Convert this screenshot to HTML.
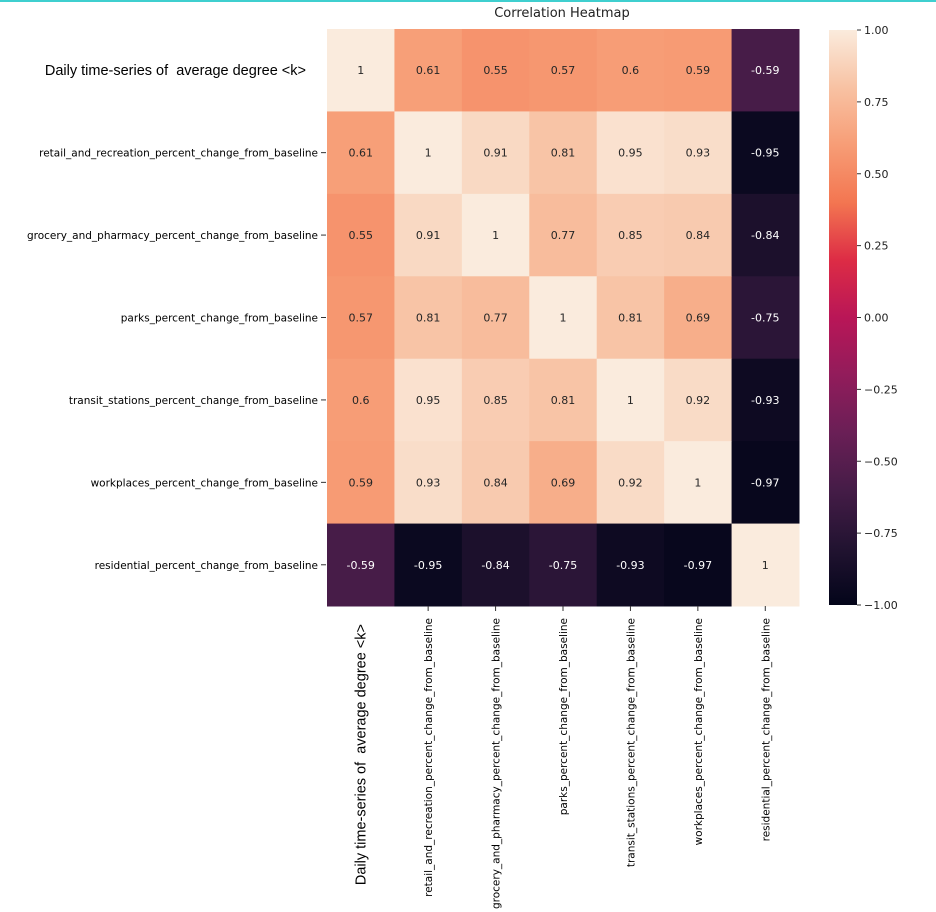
<!DOCTYPE html>
<html><head><meta charset="utf-8"><style>
body{margin:0;background:#fff;}
svg{display:block;font-family:"DejaVu Sans","Liberation Sans",sans-serif;}
</style></head><body>
<svg id="c" width="936" height="912" xmlns="http://www.w3.org/2000/svg">
<rect x="0" y="0" width="936" height="2" fill="#3fcfcf"/>
<text x="562" y="17" font-size="13" text-anchor="middle" fill="#222">Correlation Heatmap</text>
</svg>
<script>
const labels=["Daily time-series of\u00a0 average degree <k>","retail_and_recreation_percent_change_from_baseline","grocery_and_pharmacy_percent_change_from_baseline","parks_percent_change_from_baseline","transit_stations_percent_change_from_baseline","workplaces_percent_change_from_baseline","residential_percent_change_from_baseline"];
const row0=[1,0.61,0.55,0.57,0.6,0.59,-0.59];
const row1=[0.61,1,0.91,0.81,0.95,0.93,-0.95];
const row2=[0.55,0.91,1,0.77,0.85,0.84,-0.84];
const row3=[0.57,0.81,0.77,1,0.81,0.69,-0.75];
const row4=[0.6,0.95,0.85,0.81,1,0.92,-0.93];
const row5=[0.59,0.93,0.84,0.69,0.92,1,-0.97];
const row6=[-0.59,-0.95,-0.84,-0.75,-0.93,-0.97,1];
const matrix=[row0,row1,row2,row3,row4,row5,row6];
const cbTicks=[1,0.75,0.5,0.25,0,-0.25,-0.5,-0.75,-1];

const stops=["#03051a","#221331","#451c47","#6a1f56","#921c5b","#b91657","#dd2c45","#f37651","#f79d76","#f8c2a3","#faebdd"];
function hex(h){return [1,3,5].map(i=>parseInt(h.substr(i,2),16));}
function cmap(v){let t=(v+1)/2*10;t=Math.max(0,Math.min(10,t));let i=Math.min(9,Math.floor(t));let f=t-i;const a=hex(stops[i]),b=hex(stops[i+1]);const c=a.map((x,k)=>Math.round(x+(b[k]-x)*f));return {s:`rgb(${c})`,c};}
const L=327,T=29,W=472,H=577,n=7,cw=W/n,ch=H/n;
const xPos=i=>L+i*cw, yPos=i=>T+i*ch;
const svg=document.getElementById('c');const NS="http://www.w3.org/2000/svg";
function el(tag,attrs,txt){const e=document.createElementNS(NS,tag);for(const k in attrs)e.setAttribute(k,attrs[k]);if(txt!==undefined)e.textContent=txt;svg.appendChild(e);return e;}
for(let r=0;r<n;r++)for(let c=0;c<n;c++){
 const v=matrix[r][c];const col=cmap(v);
 const rc=el('rect',{x:xPos(c),y:yPos(r),width:cw+0.5,height:ch+0.5,fill:col.s});
 
 
 const lum=(0.299*col.c[0]+0.587*col.c[1]+0.114*col.c[2])/255;
 const t=el('text',{x:xPos(c)+cw/2,y:yPos(r)+ch/2+4,'font-size':11,'text-anchor':'middle',fill:lum>0.45?'#262626':'#fff'},String(v));
 
 
}
for(let i=0;i<n;i++){
 const big=i===0;
 const y=yPos(i)+ch/2;
 const t=el('text',{x:big?306:318,y:y+(big?5:4),'font-size':big?14.5:10.5,'text-anchor':'end',fill:'#000','font-family':big?'"Liberation Sans",sans-serif':'"DejaVu Sans",sans-serif'},labels[i]);
 
 
 if(!big)el('line',{x1:321,x2:326,y1:y,y2:y,stroke:'#333'});
 const x=xPos(i)+cw/2;
 const tx=el('text',{x:0,y:0,'font-size':big?14.5:10.5,'text-anchor':'end',fill:'#000','font-family':big?'"Liberation Sans",sans-serif':'"DejaVu Sans",sans-serif',transform:`translate(${x+(big?5:4)},${big?624:618}) rotate(-90)`},labels[i]);
 
 
 if(!big)el('line',{x1:x,x2:x,y1:606,y2:611,stroke:'#333'});
}
const cbX=829,cbW=28,cbT=30,cbB=605;
const defs=el('defs',{});const g=document.createElementNS(NS,'linearGradient');g.setAttribute('id','cb');g.setAttribute('x1','0');g.setAttribute('y1','1');g.setAttribute('x2','0');g.setAttribute('y2','0');defs.appendChild(g);
stops.forEach((s,i)=>{const st=document.createElementNS(NS,'stop');st.setAttribute('offset',i/10);st.setAttribute('stop-color',s);g.appendChild(st);});
const cb=el('rect',{x:cbX,y:cbT,width:cbW,height:cbB-cbT,fill:'url(#cb)'});


const cbY=v=>cbB-(v+1)/2*(cbB-cbT);
cbTicks.forEach(v=>{const y=cbY(v);el('line',{x1:cbX+cbW,x2:cbX+cbW+4,y1:y,y2:y,stroke:'#333'});
 const t=el('text',{x:cbX+cbW+7,y:y+4,'font-size':11,fill:'#222'},(v<0?'\u2212':'')+Math.abs(v).toFixed(2));
 
 });
</script>
</body></html>
